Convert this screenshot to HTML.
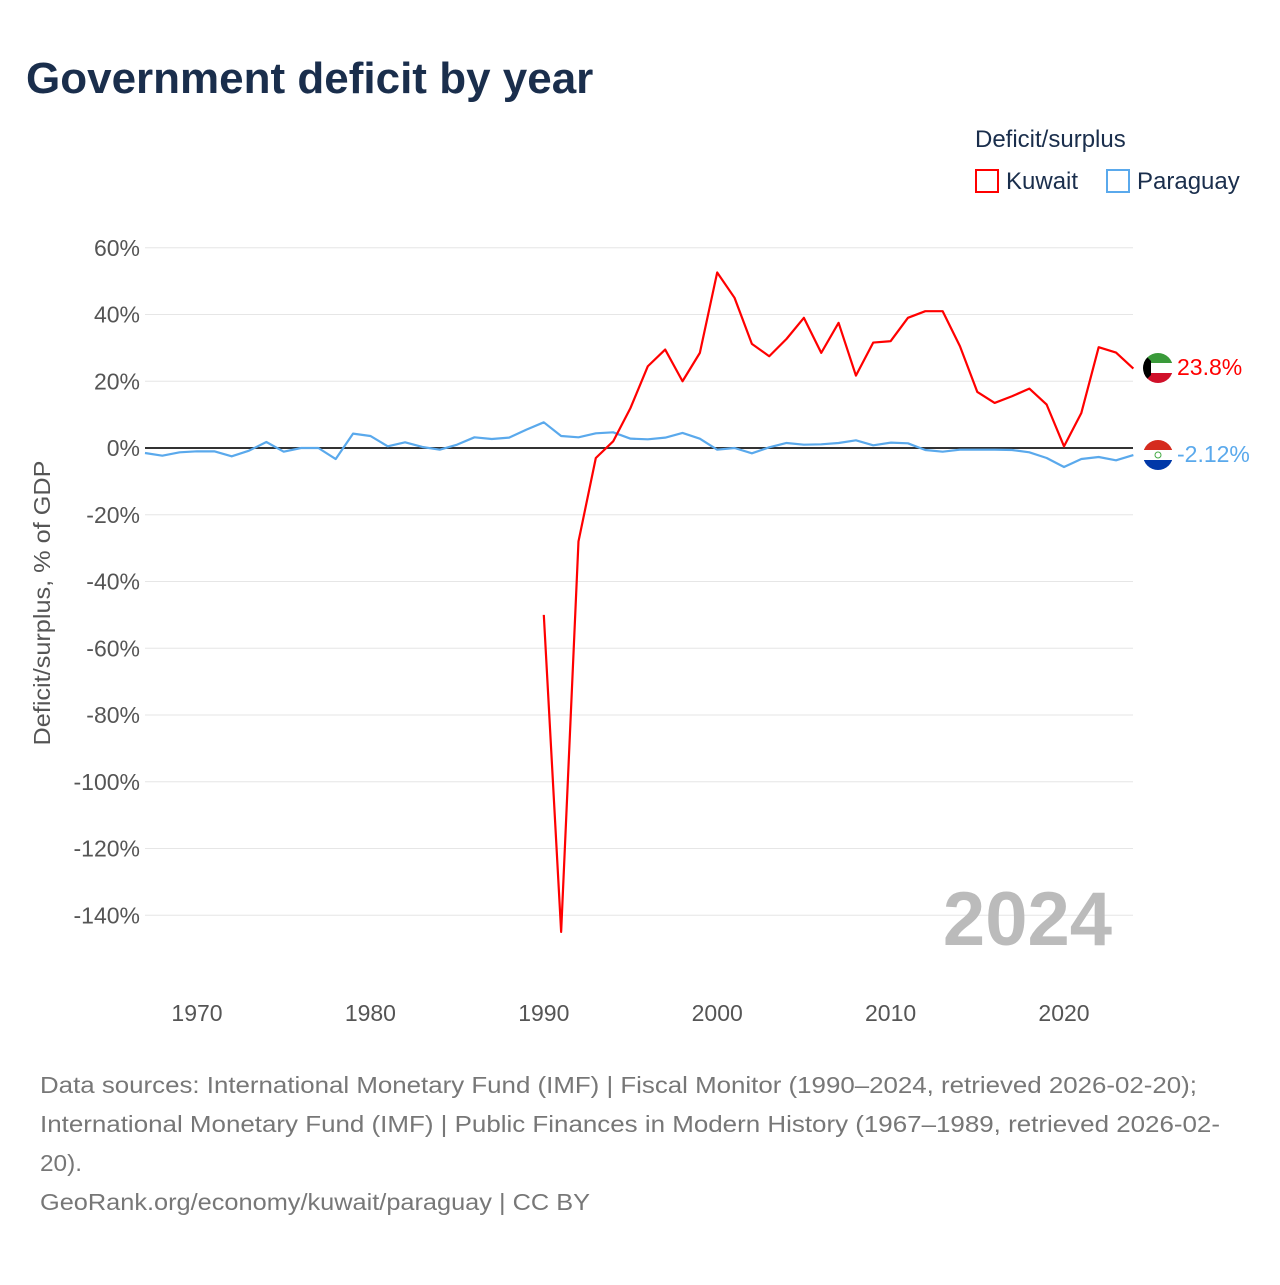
<!DOCTYPE html>
<html><head><meta charset="utf-8"><style>
body{margin:0;background:#fff;font-family:"Liberation Sans",sans-serif}
</style></head><body>
<svg width="1280" height="1280" xmlns="http://www.w3.org/2000/svg" font-family="Liberation Sans, sans-serif">
<text x="26" y="93" font-size="44" font-weight="bold" fill="#1a2e4c">Government deficit by year</text>
<g>
<text x="975" y="147" font-size="24" fill="#1a2e4c">Deficit/surplus</text>
<g><rect x="976" y="170" width="22" height="22" fill="none" stroke="#f00" stroke-width="2"/><text x="1006" y="189" font-size="24" fill="#1a2e4c">Kuwait</text></g>
<g><rect x="1107" y="170" width="22" height="22" fill="none" stroke="#5aa9ec" stroke-width="2"/><text x="1137" y="189" font-size="24" fill="#1a2e4c">Paraguay</text></g>
</g>
<g id="grid"></g>
<g id="yticks"></g>
<g id="xticks"></g>
<text transform="translate(50,603) rotate(-90)" text-anchor="middle" font-size="23" fill="#555" textLength="285" lengthAdjust="spacingAndGlyphs">Deficit/surplus, % of GDP</text>
<text x="1112" y="945" text-anchor="end" font-size="76" font-weight="bold" fill="#bbb">2024</text>
<g id="series"></g>
<g>
<clipPath id="ck"><circle cx="1158" cy="368" r="15"/></clipPath>
<g clip-path="url(#ck)"><rect x="1143" y="353" width="30" height="10" fill="#3a9a3a"/><rect x="1143" y="363" width="30" height="10" fill="#fff"/><rect x="1143" y="373" width="30" height="10" fill="#d0102a"/><polygon points="1143,353 1151,361 1151,375 1143,383" fill="#000"/></g></g>
<text x="1177" y="375" font-size="23" fill="#f00">23.8%</text>
<g>
<clipPath id="cp"><circle cx="1158" cy="455" r="15"/></clipPath>
<g clip-path="url(#cp)"><rect x="1143" y="440" width="30" height="10" fill="#d52b1e"/><rect x="1143" y="450" width="30" height="10" fill="#fff"/><rect x="1143" y="460" width="30" height="10" fill="#0038a8"/><circle cx="1158" cy="455" r="3" fill="none" stroke="#4a4" stroke-width="1"/></g></g>
<text x="1177" y="462" font-size="23" fill="#5aa9ec">-2.12%</text>
<g font-size="23" fill="#777">
<text x="40" y="1093" textLength="1157" lengthAdjust="spacingAndGlyphs">Data sources: International Monetary Fund (IMF) | Fiscal Monitor (1990–2024, retrieved 2026-02-20);</text>
<text x="40" y="1132" textLength="1180" lengthAdjust="spacingAndGlyphs">International Monetary Fund (IMF) | Public Finances in Modern History (1967–1989, retrieved 2026-02-</text>
<text x="40" y="1171" textLength="42" lengthAdjust="spacingAndGlyphs">20).</text>
<text x="40" y="1210" textLength="550" lengthAdjust="spacingAndGlyphs">GeoRank.org/economy/kuwait/paraguay | CC BY</text>
</g>
</svg>
<script>
const yTicks=[60,40,20,0,-20,-40,-60,-80,-100,-120,-140];
const xTicks=[1970,1980,1990,2000,2010,2020];
const kuwaitYears=[1990,1991,1992,1993,1994,1995,1996,1997,1998,1999,2000,2001,2002,2003,2004,2005,2006,2007,2008,2009,2010,2011,2012,2013,2014,2015,2016,2017,2018,2019,2020,2021,2022,2023,2024];
const kuwaitValues=[-50,-145,-28,-3,2,12,24.5,29.5,20,28.5,52.6,45,31.2,27.5,32.7,39,28.5,37.5,21.7,31.6,32,39,41,41,30.5,16.8,13.5,15.5,17.8,13,0.5,10.5,30.2,28.6,23.8];
const paraguayStart=1967;
const paraguayValues=[-1.5,-2.3,-1.3,-1.0,-1.0,-2.5,-0.8,1.8,-1.1,0,0,-3.3,4.3,3.6,0.5,1.7,0.3,-0.5,1.0,3.2,2.7,3.1,5.5,7.7,3.6,3.2,4.4,4.7,2.8,2.6,3.1,4.5,2.8,-0.5,0,-1.6,0.2,1.5,1.0,1.1,1.5,2.3,0.8,1.6,1.4,-0.6,-1.1,-0.5,-0.5,-0.5,-0.6,-1.3,-3.0,-5.7,-3.3,-2.7,-3.7,-2.12];
const NS="http://www.w3.org/2000/svg";
const x=yr=>197+(yr-1970)*17.34;
const y=v=>448-v*3.3375;
function mk(tag,attrs,parent){const e=document.createElementNS(NS,tag);for(const k in attrs)e.setAttribute(k,attrs[k]);parent.appendChild(e);return e;}
const grid=document.getElementById('grid'),yt=document.getElementById('yticks'),xt=document.getElementById('xticks'),ser=document.getElementById('series');
yTicks.forEach(t=>{
 const l=mk('line',{x1:145,x2:1133,y1:y(t),y2:y(t),stroke:'#e6e6e6','stroke-width':1},grid);
 
 
 const tx=mk('text',{x:140,y:y(t)+8,'text-anchor':'end','font-size':23,fill:'#555'},yt);
 tx.textContent=t+'%';
 
 
});
xTicks.forEach(t=>{
 const tx=mk('text',{x:x(t),y:1021,'text-anchor':'middle','font-size':23,fill:'#555'},xt);
 tx.textContent=t;
 
 
});
const zl=mk('line',{x1:145,x2:1133,y1:y(0),y2:y(0),stroke:'#333','stroke-width':2},grid);


const pp=mk('polyline',{points:paraguayValues.map((v,i)=>x(paraguayStart+i)+','+y(v)).join(' '),fill:'none',stroke:'#5aa9ec','stroke-width':2.2,'stroke-linejoin':'round'},ser);


const kp=mk('polyline',{points:kuwaitValues.map((v,i)=>x(kuwaitYears[i])+','+y(v)).join(' '),fill:'none',stroke:'#f00','stroke-width':2.2,'stroke-linejoin':'round'},ser);


</script>
</body></html>
